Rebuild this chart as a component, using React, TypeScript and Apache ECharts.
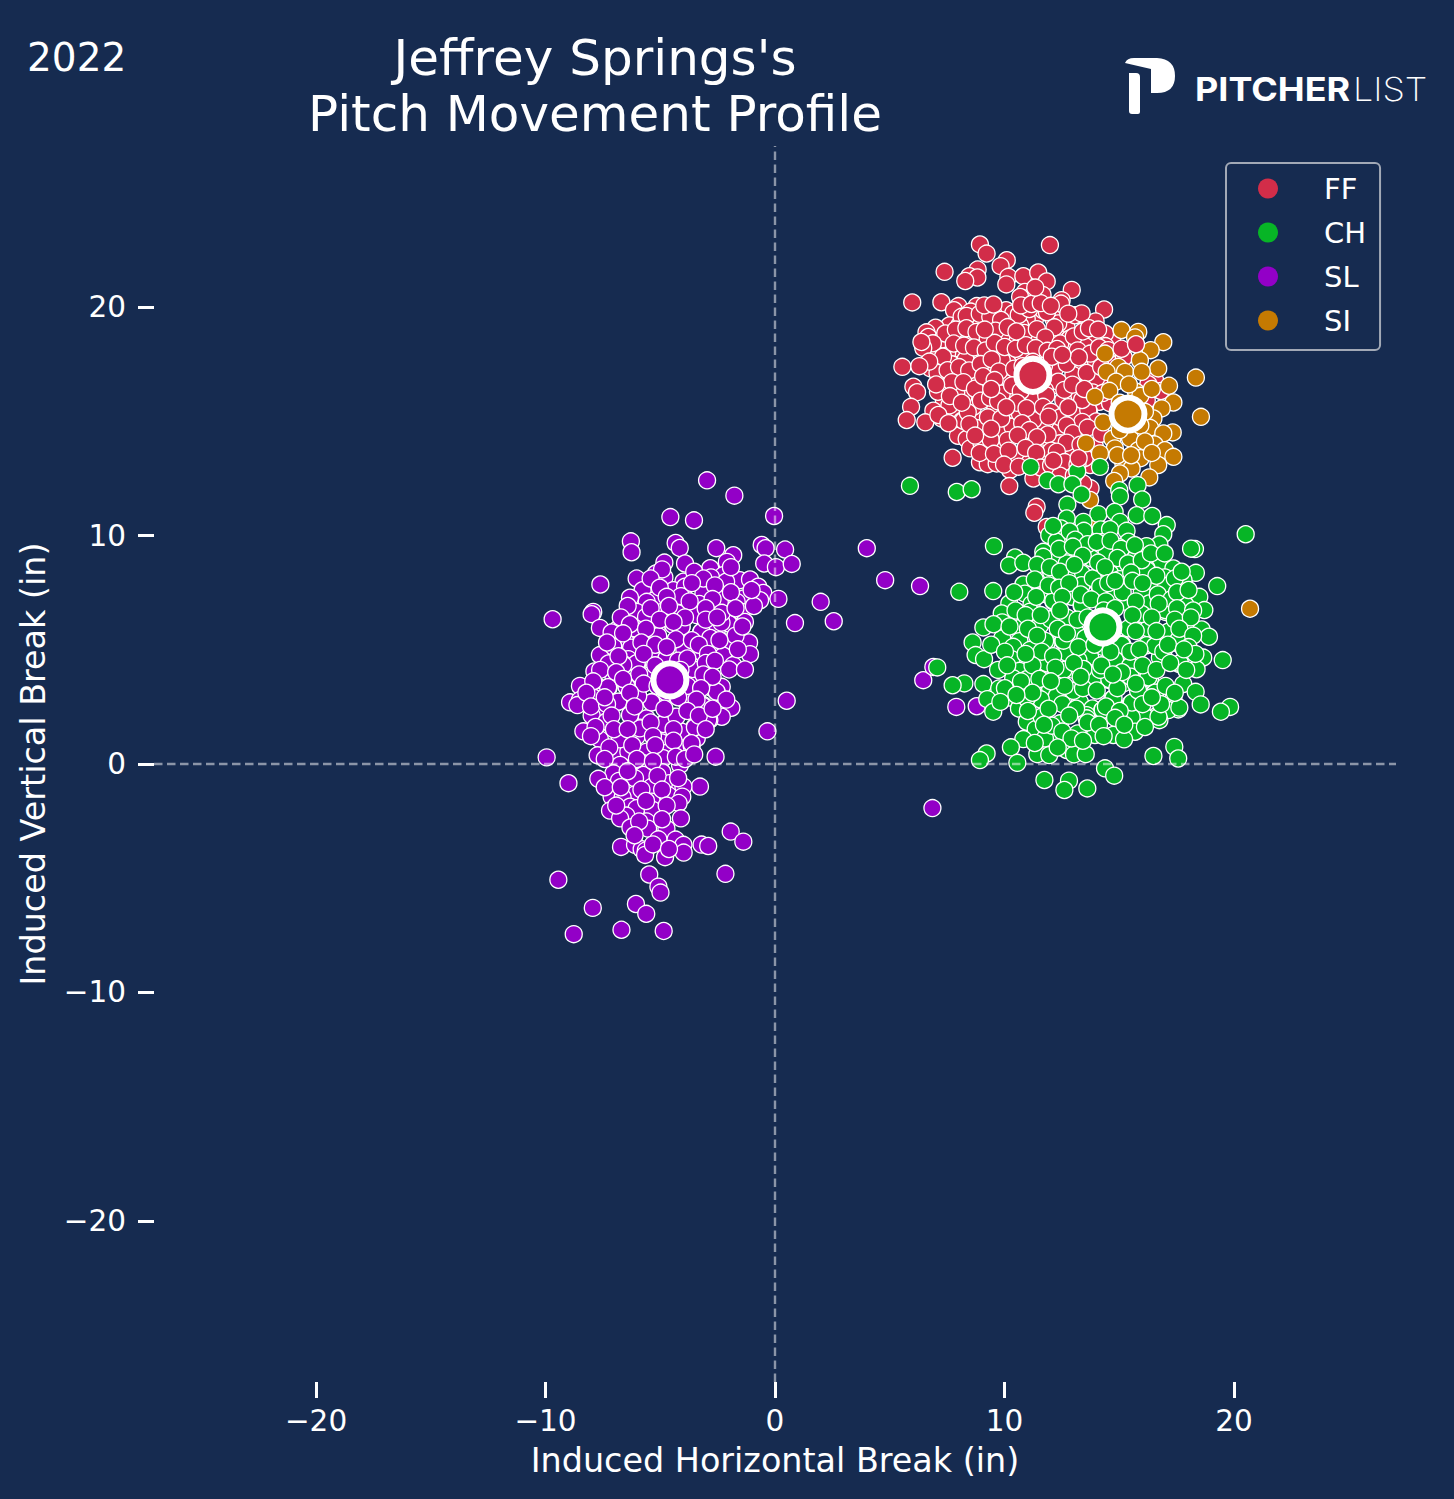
import React, { useEffect, useRef } from "react";
import * as echarts from "echarts";

const tickValues = [-20, -10, 0, 10, 20];
const titleLines = "Jeffrey Springs's\nPitch Movement Profile";
const yearLabel = "2022";

const ffPoints = [[8.93,22.75],[9.22,22.35],[11.98,22.72],[10.1,22.06],[9.83,21.8],[8.83,21.65],[7.39,21.55],[8.47,21.36],[8.82,21.3],[8.29,21.15],[10.17,21.33],[10.82,21.36],[11.47,21.52],[11.84,21.13],[10.08,21.0],[12.93,20.76],[10.89,20.67],[11.26,20.57],[11.66,20.54],[10.97,20.3],[10.68,20.45],[12.49,20.31],[12.46,20.16],[5.98,20.21],[7.25,20.22],[7.99,20.05],[7.8,19.87],[8.79,20.05],[8.53,19.81],[9.16,19.94],[9.66,19.8],[10.07,19.87],[10.41,19.73],[14.34,19.9],[13.35,19.64],[13.97,19.38],[11.33,19.48],[10.97,19.48],[9.0,19.35],[8.7,19.36],[7.6,19.2],[8.03,19.2],[7.0,19.1],[6.6,18.9],[6.68,18.7],[9.15,18.82],[9.92,18.82],[11.14,18.73],[12.13,19.5],[12.7,19.14],[12.27,18.7],[12.82,18.59],[10.68,19.2],[10.38,18.7],[14.7,18.67],[14.38,18.85],[13.87,18.5],[13.5,18.27],[12.78,18.05],[9.8,18.34],[7.22,18.3],[7.94,18.21],[9.0,17.97],[6.97,17.97],[7.48,17.97],[10.82,17.9],[11.55,17.9],[13.94,17.68],[5.55,17.39],[6.78,17.32],[7.16,17.39],[7.6,17.46],[8.64,17.68],[10.17,17.54],[12.27,17.61],[13.29,17.39],[13.0,17.03],[8.23,17.07],[8.67,16.95],[8.06,16.66],[6.03,16.52],[6.19,16.28],[9.22,16.52],[10.06,16.66],[12.27,16.59],[13.7,16.63],[16.56,16.81],[16.27,16.63],[16.82,16.33],[8.38,16.37],[7.36,15.93],[10.17,15.98],[11.29,15.93],[13.1,16.12],[14.13,15.86],[16.2,15.93],[5.93,15.64],[6.9,15.47],[7.92,15.47],[8.61,15.64],[9.59,15.52],[10.38,15.5],[13.07,15.35],[13.68,15.44],[5.74,15.06],[6.55,14.96],[7.28,15.12],[8.15,15.03],[8.79,15.06],[9.69,14.88],[10.36,14.74],[11.57,14.77],[12.1,14.84],[13.29,14.59],[7.97,14.37],[8.35,14.23],[9.0,14.69],[9.88,14.47],[11.07,14.18],[12.13,14.33],[12.42,14.62],[9.03,13.96],[8.5,13.82],[9.83,13.74],[10.82,13.67],[11.84,13.89],[12.93,13.92],[13.94,13.89],[7.74,13.41],[8.93,13.21],[9.27,13.13],[9.66,13.16],[10.27,13.23],[13.73,13.09],[10.24,12.87],[11.91,12.8],[12.78,12.8],[11.26,12.5],[10.21,12.17],[13.75,12.07],[13.43,12.29],[11.84,10.38],
[9.88,18.78],[10.38,19.73],[13.07,19.65],[13.36,19.73],[12.85,18.63],[13.51,18.3],[12.74,18.05],[9.0,17.98],[11.62,17.9],[10.75,17.98],[8.64,16.95],[10.09,16.66],[12.2,17.32],[12.34,16.74],[13.65,16.59],[8.64,15.64],[11.28,15.93],[13.07,16.15],[13.65,15.5],[8.21,15.03],[10.35,14.77],[11.55,14.77],[9.0,14.04],[11.04,14.21],[9.88,13.89],[12.42,14.04],[8.21,16.08],[11.98,18.71],[11.18,18.56],[9.88,17.68],[9.29,17.39],[10.82,16.88],[11.76,16.37],[12.56,15.93],[10.67,15.35],[11.26,15.06],[9.51,19.73],[8.5,18.85],[8.13,19.58],[12.34,19.29],[11.69,19.87],[7.5,18.0],[8.0,18.6],[7.3,18.6],[7.7,17.5],[8.3,17.7],[7.4,16.9],[7.9,16.3],[7.1,16.3],[8.4,15.4],[7.6,15.7],[8.8,14.7],[9.4,14.2],[10.6,13.5],[11.1,13.2],[11.6,13.6],[12.4,13.4],[13.0,13.5],[13.5,13.4],[14.4,18.3],[14.8,17.3],[14.3,16.8],[14.6,15.8],[14.0,15.0],[14.7,17.7],[15.2,17.8],[14.0,16.9],
[8.35,19.62],[8.92,19.71],[9.38,19.58],[9.85,19.44],[10.62,19.66],[11.08,19.92],[11.85,19.78],[12.18,19.12],[7.42,18.85],[7.88,19.02],[8.34,19.08],[8.78,18.92],[9.27,18.63],[9.61,18.97],[10.14,19.13],[10.86,18.87],[11.41,19.04],[11.78,18.68],[12.43,18.41],[13.02,18.72],[13.41,18.94],[6.88,18.42],[7.32,17.83],[7.79,18.41],[8.24,18.32],[8.67,18.24],[9.18,18.11],[9.57,18.44],[10.01,18.26],[10.49,18.18],[10.93,18.34],[11.36,18.21],[11.87,18.09],[12.29,18.17],[13.19,18.11],[13.74,17.97],[14.12,18.24],[7.08,17.12],[7.52,17.24],[8.02,17.38],[8.46,17.23],[8.96,17.51],[9.44,17.72],[9.76,17.19],[10.42,17.31],[10.79,17.42],[11.24,17.61],[11.72,17.44],[12.06,17.83],[12.71,17.52],[13.24,17.81],[13.58,17.12],[14.21,17.38],[7.71,16.72],[8.21,16.72],[8.71,16.43],[9.07,16.98],[9.57,16.81],[9.88,16.22],[10.33,16.58],[10.71,16.33],[11.09,16.62],[11.51,16.81],[11.82,16.14],[12.61,16.38],[12.96,16.61],[13.38,15.94],[13.84,16.27],[14.28,16.24],[7.62,16.11],[8.14,15.82],[8.97,15.91],[9.37,16.04],[9.72,15.88],[10.54,15.82],[10.96,15.58],[11.68,15.64],[12.02,15.42],[12.43,15.18],[12.78,15.62],[13.39,14.98],[7.12,15.28],[7.56,14.92],[8.47,14.88],[9.28,15.18],[9.86,15.13],[10.77,14.92],[11.09,14.62],[11.88,14.43],[12.71,14.83],[12.98,14.48],[13.62,14.73],[14.21,14.46],[8.72,14.38],[9.42,14.68],[10.14,14.18],[10.58,14.39],[11.42,14.31],[12.04,13.72],[12.71,14.07],[13.31,13.98],[8.92,13.62],[9.54,13.58],[10.18,13.72],[10.92,13.84],[11.38,13.63],[12.28,13.67],[12.62,13.22],[13.18,13.11],[9.98,13.11],[10.62,13.02],[11.58,12.98],[12.03,13.08],[12.42,12.62],[13.02,12.62],[10.72,20.08],[11.18,20.14],[11.58,20.18],[12.02,20.06],[9.12,20.08],[9.52,20.12],[11.34,20.86],[12.78,19.72],[13.68,19.08],[14.08,19.02],[14.52,18.12],[6.46,18.22],[6.38,18.48],[6.72,17.62],[6.29,17.42],[7.02,16.62],[9.14,19.02],[10.52,18.94],[12.52,17.92],[11.02,17.22],[13.48,16.42],[11.92,15.21],[10.08,15.62],[9.42,16.42]];

const ffOnTop = [[15.1,18.18],[15.73,18.38],[13.23,13.39],[12.13,13.28],[11.4,11.26],[11.3,11.0]];

const siPoints = [[15.1,19.0],[15.83,18.92],[15.69,18.68],[16.92,18.47],[16.37,18.12],[14.38,17.97],[15.9,17.68],[14.96,17.39],[16.7,17.32],[14.45,17.17],[15.25,17.17],[15.98,17.17],[18.34,16.92],[14.86,16.74],[17.17,16.56],[14.57,16.34],[15.73,16.3],[13.94,16.08],[17.36,15.83],[16.85,15.57],[18.56,15.2],[14.3,14.96],[16.49,15.13],[16.34,14.72],[17.33,14.52],[16.92,14.47],[15.47,14.26],[14.7,14.24],[13.55,14.04],[16.54,13.99],[14.81,13.82],[16.99,13.74],[14.16,13.6],[15.83,13.74],[15.93,13.39],[17.36,13.45],[16.7,13.09],[15.18,13.16],[15.54,12.94],[15.03,12.72],[16.31,12.55],[14.78,12.39],[13.73,11.56],[20.7,6.8],[13.85,10.5],[15.02,15.82],[15.92,16.12],[16.12,15.42],[16.42,16.42],[15.42,16.62],[15.02,14.62],[15.92,14.82],[16.12,14.12],[14.92,13.52],[15.52,13.52],[16.42,13.62]];

const chPoints = [[5.88,12.18],[7.92,11.91],[8.57,12.03],[11.14,13.01],[14.16,13.01],[13.17,12.82],[11.87,12.42],[12.35,12.25],[12.96,12.25],[15.8,12.21],[15.0,11.99],[15.03,11.72],[13.36,11.8],[16.0,11.58],[12.74,11.36],[14.09,10.94],[14.8,11.04],[15.76,10.89],[16.44,10.86],[12.71,10.75],[13.44,10.6],[17.07,10.46],[15.03,10.6],[12.46,10.31],[13.46,10.21],[14.19,10.27],[14.6,10.28],[15.32,10.21],[11.95,10.02],[16.92,10.06],[20.51,10.06],[12.56,9.87],[12.27,9.73],[14.23,9.71],[15.4,9.73],[16.75,9.61],[16.19,9.54],[9.54,9.54],[18.3,9.41],[18.13,9.43],[14.96,9.51],[11.69,9.29],[13.25,9.29],[14.45,9.29],[10.46,9.04],[12.56,9.17],[12.2,9.04],[13.8,9.0],[15.69,8.98],[10.2,8.7],[10.82,8.81],[11.69,9.07],[12.78,8.66],[15.1,8.78],[16.82,8.81],[17.36,8.56],[16.19,8.56],[14.6,8.34],[13.36,8.34],[12.03,8.41],[18.34,8.37],[16.99,8.17],[12.71,8.19],[13.84,8.08],[15.03,8.09],[19.27,7.79],[17.82,7.9],[17.07,7.79],[16.49,7.93],[10.82,7.86],[8.03,7.54],[9.51,7.57],[11.55,7.79],[13.36,7.83],[14.16,7.68],[11.79,7.44],[15.13,7.46],[15.98,7.54],[18.49,7.32],[10.89,7.46],[12.93,7.32],[14.81,7.32],[10.21,7.03],[12.13,7.11],[13.36,6.93],[15.32,7.1],[16.31,7.03],[17.89,6.95],[11.18,7.0],[17.01,6.66],[18.71,6.74],[9.88,6.59],[11.11,6.65],[15.98,6.55],[12.74,6.4],[12.01,6.34],[9.9,6.2],[17.98,6.15],[9.08,5.98],[10.68,5.96],[11.55,6.08],[16.27,5.93],[18.59,5.89],[13.1,5.74],[17.18,5.76],[18.91,5.57],[9.9,5.5],[10.65,5.38],[11.84,5.32],[12.56,5.38],[15.13,5.25],[8.61,5.32],[16.56,5.17],[17.55,5.28],[17.72,5.42],[16.19,5.2],[10.38,5.13],[14.28,5.13],[11.14,4.94],[12.71,4.87],[8.74,4.77],[9.11,4.59],[10.31,4.59],[13.73,4.69],[16.77,4.66],[18.66,4.66],[19.51,4.55],[11.84,4.4],[13.22,4.55],[14.81,4.5],[15.76,4.4],[17.62,4.37],[7.07,4.23],[10.65,4.08],[12.93,4.14],[13.46,4.14],[15.44,4.26],[18.37,4.15],[12.42,3.96],[14.57,3.67],[15.51,3.79],[16.34,3.72],[10.38,3.75],[13.87,3.75],[8.25,3.53],[7.74,3.45],[9.08,3.5],[11.15,3.48],[17.79,3.5],[13.0,3.21],[9.77,3.31],[11.91,3.31],[15.18,3.53],[18.33,3.16],[16.54,3.09],[10.24,2.91],[10.97,2.84],[12.3,2.97],[9.25,2.84],[11.62,2.8],[14.7,2.84],[13.29,2.7],[15.5,2.65],[17.36,2.87],[18.55,2.61],[19.83,2.5],[19.43,2.29],[17.57,2.39],[17.14,2.36],[9.51,2.29],[10.63,2.43],[13.83,2.43],[14.26,2.36],[16.63,2.1],[16.75,1.92],[11.65,2.07],[16.12,2.07],[15.54,2.04],[13.58,2.14],[10.97,1.85],[12.42,1.78],[11.36,1.53],[12.06,1.6],[13.58,1.51],[13.19,1.34],[13.94,1.27],[15.69,1.41],[14.74,1.27],[15.21,1.08],[12.13,1.02],[11.76,1.12],[10.82,1.09],[10.28,0.73],[12.71,0.61],[11.43,0.43],[11.95,0.39],[13.03,0.42],[13.54,0.43],[9.22,0.46],[8.93,0.17],[10.56,0.05],[16.49,0.35],[17.4,0.75],[17.57,0.24],[14.38,-0.19],[14.78,-0.51],[11.74,-0.7],[12.81,-0.73],[12.61,-1.14],[13.61,-1.07],
[13.85,8.13],[15.15,7.52],[17.03,7.79],[12.13,7.15],[13.37,6.96],[11.12,6.67],[12.02,6.33],[15.98,6.57],[17.0,6.74],[13.12,5.75],[15.4,5.94],[17.14,5.79],[11.77,5.39],[12.57,5.4],[16.56,5.17],[11.12,5.0],[15.11,5.21],[17.65,4.41],[11.84,4.41],[14.82,4.55],[13.44,4.16],[15.47,4.29],[14.57,3.71],[15.5,3.82],[16.27,3.8],[10.97,3.71],[11.99,3.31],[13.0,3.2],[16.56,3.12],[12.28,2.98],[11.58,2.83],[14.75,2.88],[15.55,2.69],[17.62,2.47],[14.28,2.37],[16.71,2.07],[11.62,2.07],[12.06,1.68],[13.58,2.0],[10.97,2.88],[17.8,8.05],[12.71,8.78],[14.17,7.76],[16.2,8.49],[17.58,5.43],[14.17,4.12],[12.57,4.12],
[12.12,10.42],[12.84,10.18],[13.08,9.82],[13.62,9.62],[14.02,9.72],[14.62,9.78],[15.08,9.42],[15.68,9.58],[12.38,9.42],[12.98,9.52],[13.41,9.12],[14.08,8.82],[14.92,9.02],[15.38,8.78],[15.98,8.92],[16.38,9.22],[16.98,9.22],[11.42,8.72],[11.98,8.62],[12.42,8.42],[13.05,8.72],[14.38,8.62],[15.52,8.38],[16.62,8.24],[17.42,8.12],[17.72,8.42],[11.32,8.08],[11.92,7.82],[12.38,7.72],[12.82,7.92],[13.32,7.42],[14.52,7.92],[14.82,8.02],[15.58,8.02],[16.02,7.92],[16.68,7.42],[17.28,7.22],[17.52,7.52],[18.02,7.62],[10.42,7.52],[11.38,7.32],[12.52,7.32],[13.78,7.21],[14.42,7.12],[15.72,7.12],[16.72,7.02],[17.52,6.82],[18.22,6.72],[10.48,6.72],[10.92,6.52],[11.58,6.52],[12.42,6.72],[13.18,6.32],[13.62,6.42],[14.32,6.72],[14.82,6.82],[15.58,6.52],[16.42,6.42],[17.42,6.32],[18.12,6.42],[9.52,6.12],[10.22,6.02],[11.02,5.92],[12.32,5.92],[12.72,5.72],[13.52,5.52],[15.72,5.82],[16.62,5.82],[17.62,5.92],[18.22,5.62],[9.42,5.22],[10.02,4.92],[11.42,5.62],[11.62,4.92],[12.12,4.72],[13.22,5.12],[13.92,5.22],[14.62,4.92],[15.48,4.92],[15.88,5.02],[16.92,4.92],[17.12,5.22],[18.02,5.12],[18.32,4.82],[9.72,4.12],[10.12,4.32],[11.22,4.32],[12.22,4.22],[13.02,4.42],[14.22,4.32],[15.12,4.02],[16.02,4.32],[16.62,4.12],[17.22,4.42],[17.92,4.12],[10.02,3.32],[10.72,3.62],[11.52,3.72],[12.62,3.42],[13.42,3.32],[14.02,3.22],[14.92,3.32],[15.82,3.22],[17.02,3.42],[17.42,3.12],[9.82,2.72],[11.22,3.12],[12.52,2.62],[13.12,2.42],[14.42,2.52],[15.02,2.32],[16.02,2.62],[16.82,2.62],[11.02,2.32],[11.92,2.42],[12.82,2.12],[13.62,1.82],[14.12,1.72],[14.82,2.02],[15.22,1.72],[16.12,1.62],[12.52,1.42],[12.92,1.12],[13.42,1.02],[14.32,1.22],[11.32,0.92],[11.72,1.72],[12.32,0.72],[10.92,4.82],[10.52,3.02],[17.82,5.02],[13.32,3.82],[14.72,3.92],[15.72,3.52],[16.42,2.92],[12.02,3.62]];

const slPoints = [[-2.96,12.42],[-1.77,11.75],[-4.56,10.81],[-3.53,10.67],[-0.04,10.86],[-6.28,9.75],[-6.25,9.27],[-4.33,9.68],[-4.15,9.46],[-2.56,9.45],[-1.82,9.14],[-0.58,9.59],[-0.41,9.45],[0.44,9.39],[-0.47,8.78],[0.04,8.62],[0.73,8.76],[-2.1,8.85],[-4.82,8.82],[-3.92,8.78],[-5.19,8.34],[-4.82,8.17],[-2.82,8.57],[-2.25,8.27],[-2.79,8.17],[-6.03,8.12],[-7.61,7.86],[-3.99,7.98],[-1.53,8.05],[-1.09,8.08],[-2.13,7.98],[-5.77,7.61],[-4.43,7.61],[-3.92,7.76],[-3.12,7.46],[-0.73,7.76],[-0.51,7.49],[0.15,7.23],[1.99,7.1],[-6.32,7.28],[-5.27,7.16],[-4.1,7.35],[-2.21,7.26],[-1.35,7.25],[-1.67,7.1],[-0.65,7.17],[-3.3,7.01],[-5.59,7.1],[-4.91,6.66],[-7.92,6.66],[-7.99,6.56],[-9.69,6.34],[-6.03,6.66],[-4.21,6.59],[-3.41,6.52],[-1.45,6.66],[-5.62,6.44],[-2.3,6.18],[-1.31,6.22],[0.87,6.17],[2.56,6.25],[-2.83,6.15],[-2.03,6.15],[-7.63,5.96],[-6.83,5.93],[-6.07,5.92],[-5.16,5.93],[-4.43,6.08],[-4.07,6.01],[-3.22,5.77],[-7.12,5.76],[-5.11,5.58],[-5.45,5.71],[-2.54,5.86],[-6.54,5.42],[-4.33,5.42],[-2.15,5.32],[-1.13,5.32],[-7.04,5.13],[-6.27,5.09],[-3.95,4.99],[-2.69,5.2],[-7.63,4.77],[-1.09,4.81],[-3.18,4.88],[-5.27,4.75],[-2.25,4.74],[-4.75,4.62],[-6.39,4.59],[-7.25,4.4],[-6.58,4.36],[-6.0,4.4],[-1.82,4.33],[-2.0,4.14],[-1.31,4.14],[-3.59,4.15],[-7.87,4.05],[-5.45,3.89],[-7.04,3.82],[-6.17,3.6],[-3.41,3.67],[-8.5,3.42],[-7.7,3.38],[-7.25,3.34],[-6.46,3.38],[-2.32,3.38],[-2.76,3.34],[-2.54,3.16],[-7.7,2.94],[-7.92,2.91],[-5.95,2.94],[-5.37,2.7],[-8.93,2.7],[-6.83,2.72],[-3.92,2.8],[-3.12,2.58],[0.51,2.77],[-1.9,2.46],[-8.5,2.8],
[-8.61,2.58],[-7.63,2.36],[-7.99,2.12],[-3.15,2.55],[-2.32,2.07],[-2.86,1.93],[-6.27,2.22],[-4.43,2.07],[-5.59,2.0],[-7.26,1.81],[-3.51,1.61],[-4.87,1.74],[-5.88,1.59],[-8.35,1.43],[-0.33,1.43],[-4.07,1.42],[-5.08,1.42],[-7.63,1.08],[-6.75,1.11],[-6.03,1.2],[-4.94,0.94],[-3.41,1.13],[-4.1,0.64],[-3.63,0.79],[-5.59,0.54],[-6.78,0.47],[-4.79,0.47],[-7.73,0.38],[-6.39,0.54],[-2.59,0.32],[-9.95,0.29],[-4.14,-0.04],[-5.74,0.03],[-6.75,-0.04],[-4.87,0.25],[-7.04,-0.41],[-4.91,-0.36],[-5.74,-0.48],[-7.7,-0.65],[-6.8,-0.74],[-9.0,-0.84],[-6.1,-0.63],[-4.6,-0.84],[-5.37,-1.0],[-3.27,-0.99],[-4.14,-1.09],[-3.99,-0.99],[-6.1,-1.33],[-7.12,-1.43],[-6.64,-1.46],[-4.65,-1.36],[-4.04,-1.43],[-5.37,-1.65],[-4.2,-1.71],[-6.32,-1.87],[-6.03,-1.94],[-5.33,-2.01],[-7.19,-2.04],[-6.48,-2.26],[-6.75,-2.38],[-4.1,-2.38],[-5.59,-2.52],[-6.3,-2.78],[-5.53,-2.83],[-4.73,-2.83],[-1.93,-2.96],[-1.38,-3.4],[-5.08,-3.3],[-4.33,-3.31],[-3.2,-3.53],[-2.91,-3.59],[-3.99,-3.54],[-6.71,-3.63],[-6.1,-3.54],[-5.81,-3.73],[-5.63,-3.79],[-5.66,-3.98],[-4.79,-4.08],[-3.98,-3.88],[-5.48,-4.84],[-2.16,-4.81],[-9.44,-5.07],[-5.08,-5.37],[-4.99,-5.63],[-6.06,-6.13],[-7.94,-6.3],[-5.61,-6.56],[-8.77,-7.45],[-6.69,-7.26],[-4.85,-7.31],
[-6.1,5.94],[-4.07,6.01],[-5.09,5.6],[-3.2,5.79],[-2.33,6.19],[-4.32,5.46],[-7.05,5.14],[-3.2,4.89],[-5.31,4.77],[-6.03,4.41],[-6.61,4.34],[-3.59,4.16],[-4.73,4.63],[-7.27,3.36],[-6.47,3.39],[-2.55,3.17],[-6.83,2.73],[-5.38,2.7],[-5.96,2.98],[-3.85,2.73],[-4.87,1.75],[-5.89,1.56],[-3.49,1.61],[-6.76,1.08],[-7.34,1.86],[-6.32,2.15],[-4.29,2.07],[-2.91,1.93],[-3.64,0.91],
[-4.92,8.52],[-3.52,8.42],[-3.12,8.12],[-2.62,7.82],[-1.92,7.52],[-5.42,8.12],[-5.02,7.72],[-3.62,7.92],[-4.72,7.32],[-3.72,7.12],[-2.72,7.22],[-3.02,6.82],[-2.32,6.62],[-1.72,6.82],[-6.42,6.92],[-5.42,6.82],[-4.62,6.92],[-3.92,6.42],[-6.72,6.42],[-5.02,6.32],[-4.42,6.22],[-3.02,6.32],[-2.52,6.42],[-6.32,6.12],[-5.62,5.92],[-3.62,5.42],[-2.82,5.52],[-1.72,5.62],[-7.32,5.32],[-6.62,5.72],[-5.82,5.32],[-5.22,5.22],[-4.72,5.12],[-3.32,5.22],[-2.92,4.82],[-2.42,5.42],[-1.62,5.02],[-5.72,4.82],[-6.82,4.72],[-4.22,4.52],[-3.82,4.62],[-3.02,4.42],[-2.62,4.52],[-7.62,4.12],[-6.92,4.02],[-5.92,3.92],[-5.22,4.32],[-4.12,4.12],[-3.12,3.92],[-2.72,3.82],[-7.92,3.62],[-6.62,3.72],[-5.72,3.52],[-5.12,3.42],[-3.82,3.42],[-3.22,3.32],[-8.22,3.12],[-6.32,3.12],[-4.72,3.12],[-4.22,2.92],[-3.42,2.82],[-8.02,2.52],[-7.32,2.62],[-6.12,2.52],[-4.82,2.42],[-3.82,2.32],[-3.32,2.12],[-7.82,1.62],[-7.12,2.12],[-5.42,1.82],[-4.42,1.52],[-3.02,1.52],[-8.02,1.22],[-7.02,1.52],[-6.42,1.52],[-5.32,1.22],[-4.42,1.02],[-7.22,0.72],[-6.22,0.82],[-5.22,0.82],[-4.32,0.32],[-3.92,0.22],[-3.52,0.42],[-6.02,0.22],[-5.32,0.12],[-7.42,0.22],[-6.42,-0.32],[-5.12,-0.52],[-4.22,-0.62],[-7.42,-1.02],[-5.82,-1.12],[-4.92,-1.12],[-6.72,-1.02],[-5.62,-1.62],[-4.72,-1.82],[-6.92,-1.82],[-5.92,-2.52],[-4.92,-2.42],[-6.12,-3.12],[-5.32,-3.52],[-4.62,-3.72],[-7.42,2.92],[-2.12,2.82],[-2.72,2.42],[-1.42,6.02],[-0.92,6.92],[-1.02,7.62],[-1.92,8.62],
[4.0,9.45],[4.8,8.05],[6.32,7.79],[6.46,3.67],[6.9,4.25],[7.9,2.5],[8.79,2.53],[6.86,-1.93]];

const pitchNames = ["FF", "CH", "SL", "SI"];
const pitchMeans = { FF: [11.24, 17.02], CH: [14.29, 6.0], SL: [-4.58, 3.68], SI: [15.38, 15.32] };
const pitchColors = { FF: "#D22D49", CH: "#07B526", SL: "#9300C7", SI: "#C57A02" };

const BG = "#162B50";
const FONT = "DejaVu Sans";

echarts.graphic.registerShape(
  "pitcherListP",
  echarts.graphic.extendPath(
    "M0 5 Q2 0 9 0 L32 0 Q50 1 50 18 Q50 35 32 35 L26 35 L26 11 Z M4 15 L11 15 Q15 15 15 19 L15 54 Q15 56 13 56 L7 56 Q4 56 4 53 Z",
    {}
  ) as any
);

function pitchSeries(name: string, data: number[][]) {
  return {
    type: "scatter",
    name,
    data,
    symbol: "circle",
    symbolSize: 17,
    itemStyle: { color: pitchColors[name], borderColor: "#ffffff", borderWidth: 1.3, opacity: 1 },
    silent: true,
  };
}

function meanSeries(name: string) {
  return {
    type: "scatter",
    name: name + " mean",
    data: [pitchMeans[name]],
    symbol: "circle",
    symbolSize: 33,
    z: 6,
    itemStyle: { color: pitchColors[name], borderColor: "#ffffff", borderWidth: 6, opacity: 1 },
    silent: true,
  };
}

export default function App() {
  const ref = useRef<HTMLDivElement>(null);
  useEffect(() => {
    const chart = echarts.init(ref.current!, null, { renderer: "svg" });
    const minus = (v: number) => String(v).replace("-", "\u2212");
    const axisBase = {
      type: "value",
      min: -27.06,
      max: 27.06,
      splitLine: { show: false },
      axisLine: { show: false, onZero: false },
      nameLocation: "middle",
      nameTextStyle: { color: "#fff", fontFamily: FONT, fontSize: 33.4 },
      axisTick: { show: true, length: 16, customValues: tickValues, lineStyle: { color: "#fff", width: 3 } },
    };
    const labelBase = { color: "#fff", fontFamily: FONT, fontSize: 29.5, customValues: tickValues, formatter: minus, showMinLabel: true, showMaxLabel: true, hideOverlap: false };
    chart.setOption({
      animation: false,
      backgroundColor: BG,
      title: [
        { text: titleLines, left: 590, top: 25, textAlign: "center", textStyle: { color: "#fff", fontFamily: FONT, fontSize: 50, fontWeight: "normal", lineHeight: 56 } },
        { text: yearLabel, left: 22, top: 33, textStyle: { color: "#fff", fontFamily: FONT, fontSize: 39, fontWeight: "normal" } },
      ],
      grid: { left: 154, top: 146, width: 1242, height: 1236 },
      xAxis: { ...axisBase, name: "Induced Horizontal Break (in)", nameGap: 62, axisLabel: { ...labelBase, margin: 24 } },
      yAxis: { ...axisBase, name: "Induced Vertical Break (in)", nameGap: 104, axisLabel: { ...labelBase, margin: 28 } },
      legend: {
        data: pitchNames,
        left: 1226,
        top: 163,
        orient: "vertical",
        align: "left",
        icon: "circle",
        itemWidth: 20,
        itemHeight: 20,
        itemGap: 15,
        padding: [11, 14, 15, 32],
        borderColor: "#A2A9B6",
        borderWidth: 2,
        borderRadius: 5,
        backgroundColor: BG,
        itemStyle: { borderWidth: 0 },
        selectedMode: false,
        textStyle: { color: "#fff", fontFamily: FONT, fontSize: 29, padding: [0, 0, 0, 41], lineHeight: 20 },
      },
      series: [
        pitchSeries("FF", ffPoints),
        pitchSeries("SI", siPoints),
        pitchSeries("SL", slPoints),
        pitchSeries("CH", chPoints),
        pitchSeries("FF", ffOnTop),
        meanSeries("FF"),
        meanSeries("CH"),
        meanSeries("SL"),
        meanSeries("SI"),
        {
          type: "scatter",
          name: "zero lines",
          data: [],
          silent: true,
          markLine: {
            silent: true,
            symbol: "none",
            z: 5,
            label: { show: false },
            lineStyle: { color: "rgba(255,255,255,0.5)", type: [8.5, 4.5], width: 2.4 },
            data: [{ xAxis: 0 }, { yAxis: 0 }],
          },
        },
      ],
      graphic: [
        { type: "pitcherListP", x: 1125, y: 58, style: { fill: "#fff" } },
        { type: "text", x: 1195, y: 73, scaleX: 1.09, style: { text: "PITCHER", fill: "#fff", font: "700 33px Inter" } },
        { type: "text", x: 1353, y: 73, scaleX: 1.09, style: { text: "LIST", fill: "#fff", font: "200 33px Inter" } },
      ],
    });
    return () => chart.dispose();
  }, []);
  return <div ref={ref} style={{ position: "absolute", left: 0, top: 0, width: 1454, height: 1499 }} />;
}
